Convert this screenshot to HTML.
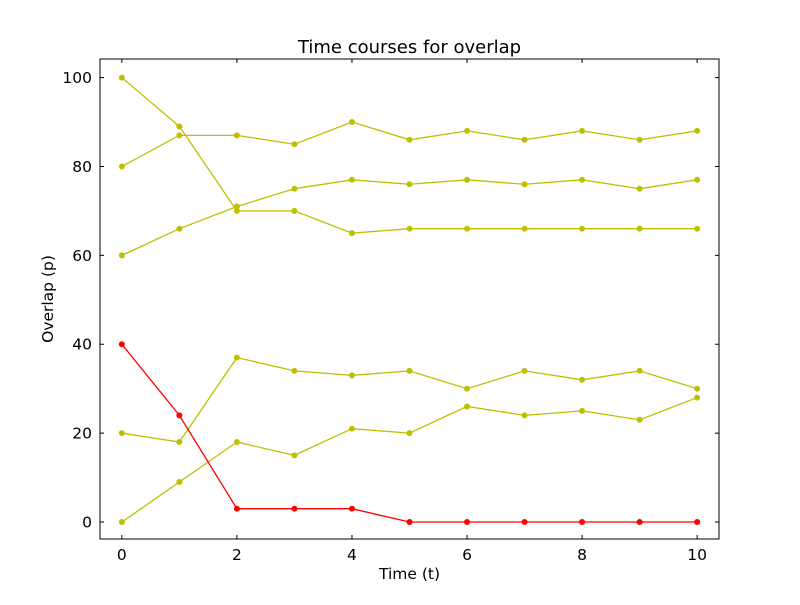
<!DOCTYPE html>
<html><head><meta charset="utf-8"><style>
body{margin:0;background:#fff;font-family:"Liberation Sans","DejaVu Sans",sans-serif;}
svg text{font-family:"DejaVu Sans","Liberation Sans",sans-serif;}
</style></head><body>
<svg id="chart" width="800" height="600" xmlns="http://www.w3.org/2000/svg">
<rect width="800" height="600" fill="#fff"/>
<text x="409.5" y="53" font-size="18" text-anchor="middle">Time courses for overlap</text>
<text x="409.5" y="579" font-size="15.5" text-anchor="middle">Time (t)</text>
<text x="53" y="299" font-size="15.5" text-anchor="middle" transform="rotate(-90 53 299)">Overlap (p)</text>
<g id="series"></g>
<g id="axes"></g>
<rect x="100" y="59" width="619" height="480" fill="none" stroke="#000" stroke-width="1"/>
</svg>
<script>
const times = [0,1,2,3,4,5,6,7,8,9,10];
const seriesA = [100,89,70,70,65,66,66,66,66,66,66];
const seriesB = [80,87,87,85,90,86,88,86,88,86,88];
const seriesC = [60,66,71,75,77,76,77,76,77,75,77];
const seriesD = [20,18,37,34,33,34,30,34,32,34,30];
const seriesE = [0,9,18,15,21,20,26,24,25,23,28];
const seriesRed = [40,24,3,3,3,0,0,0,0,0,0];
const xTicks = [0,2,4,6,8,10];
const yTicks = [0,20,40,60,80,100];

const NS="http://www.w3.org/2000/svg";
const L=100,R=719,T=59,B=539,xMin=-0.38,xMax=10.38,yMin=-4,yMax=104;
const xs=v=>L+(v-xMin)/(xMax-xMin)*(R-L);
const ys=v=>B+0.8-(v-yMin)/(yMax-yMin)*(B-T);
const sg=document.getElementById('series'), ag=document.getElementById('axes');
function mk(t,a,p){const e=document.createElementNS(NS,t);for(const k in a)e.setAttribute(k,a[k]);p.appendChild(e);return e;}
const all=[[seriesA,'#bfbf00','series-a'],[seriesB,'#bfbf00','series-b'],[seriesC,'#bfbf00','series-c'],[seriesD,'#bfbf00','series-d'],[seriesE,'#bfbf00','series-e'],[seriesRed,'#ff0000','series-red']];
all.forEach(([d,c,n])=>{
  const g=mk('g',{},sg);
  
  
  const pl=mk('polyline',{points:d.map((v,i)=>xs(times[i])+','+ys(v)).join(' '),fill:'none',stroke:c,'stroke-width':1.3},g);
  
  
  d.forEach((v,i)=>{
    const p=mk('circle',{cx:xs(times[i]),cy:ys(v),r:2.5,fill:c,stroke:c},g);
    
    
  });
});
xTicks.forEach(t=>{
  const x=xs(t);
  mk('line',{x1:x,x2:x,y1:B,y2:B-4,stroke:'#000'},ag);
  mk('line',{x1:x,x2:x,y1:T,y2:T+4,stroke:'#000'},ag);
  const tx=mk('text',{x:x,y:B+21,'font-size':15.5,'text-anchor':'middle'},ag);
  tx.textContent=t;
  
  
});
yTicks.forEach(t=>{
  const y=ys(t);
  mk('line',{x1:L,x2:L+4,y1:y,y2:y,stroke:'#000'},ag);
  mk('line',{x1:R,x2:R-4,y1:y,y2:y,stroke:'#000'},ag);
  const tx=mk('text',{x:L-8,y:y+5.5,'font-size':15.5,'text-anchor':'end'},ag);
  tx.textContent=t;
  
  
});
</script>
</body></html>
